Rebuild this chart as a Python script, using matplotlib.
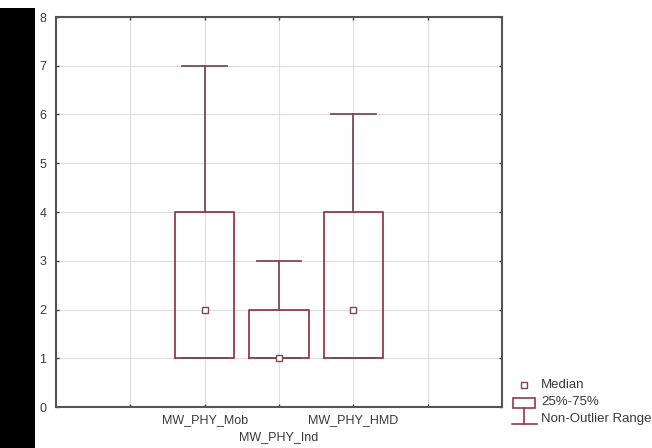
import matplotlib
matplotlib.use("Agg")
import matplotlib.pyplot as plt
from matplotlib.patches import Rectangle
from matplotlib.lines import Line2D

categories = ["MW_PHY_Mob", "MW_PHY_Ind", "MW_PHY_HMD"]
medians = [2, 1, 2]
q1 = [1, 1, 1]
q3 = [4, 2, 4]
whisk_lo = [1, 1, 1]
whisk_hi = [7, 3, 6]
positions = [2, 3, 4]
legend_labels = ["Median", "25%-75%", "Non-Outlier Range"]

plt.rcParams['font.family'] = ['Liberation Sans', 'DejaVu Sans']
col = '#963a48'
dark = '#7a4a55'
txt = '#3a3a3a'

W, H = 652, 448
fig = plt.figure(figsize=(W/100, H/100), dpi=100)
fig.patches.append(Rectangle((0, 0), 35/W, 440/H, transform=fig.transFigure,
                             facecolor='black', edgecolor='none', zorder=0))
ax = fig.add_axes([56/W, 1 - 407/H, (502-56)/W, (407-17)/H])

stats = []
for i, c in enumerate(categories):
    stats.append(dict(med=medians[i], q1=q1[i], q3=q3[i], whislo=whisk_lo[i],
                      whishi=whisk_hi[i], fliers=[], label=c))
ax.bxp(stats, positions=positions, widths=0.8, showfliers=False,
       boxprops=dict(color=col, linewidth=1.3),
       whiskerprops=dict(color=dark, linewidth=1.3),
       capprops=dict(color=dark, linewidth=1.3),
       medianprops=dict(linewidth=0),
       capwidths=0.6, manage_ticks=False)
ax.plot(positions, medians, linestyle='none', marker='s', markersize=4,
        markerfacecolor='white', markeredgecolor=dark, markeredgewidth=1, zorder=5)

ax.set_xlim(0, 6)
ax.set_ylim(0, 8)
ax.set_yticks(range(0, 9))
ax.set_xticks([1, 2, 3, 4, 5])
ax.set_xticklabels([])
ax.grid(True, color='#dddddd', linewidth=0.8)
ax.set_axisbelow(True)
ax.tick_params(direction='in', length=2, width=1, labelsize=9, colors=txt,
               top=True, right=True)
ax.tick_params(axis='y', pad=7)
for s in ax.spines.values():
    s.set_color('#555555')
    s.set_linewidth(1.5)

# staggered category labels
for i, c in enumerate(categories):
    y = -0.267 if i % 2 == 0 else -0.615
    ax.text(positions[i], y, c, ha='center', va='center', fontsize=9, color=txt)

# legend (drawn in figure pixel space)
def fx(px):
    return px / W

def fy(py):
    return 1 - py / H

# Median
fig.add_artist(Line2D([fx(524)], [fy(385)], linestyle='none', marker='s', markersize=4,
                      markerfacecolor='white', markeredgecolor=dark, markeredgewidth=1,
                      transform=fig.transFigure))
# 25%-75% box
fig.add_artist(Rectangle((fx(513), fy(408)), (535-513)/W, 10/H, transform=fig.transFigure,
                         facecolor='white', edgecolor=col, linewidth=1.2))
# Non-outlier range symbol
fig.add_artist(Line2D([fx(524), fx(524)], [fy(408), fy(424)], color=col, linewidth=1.2,
                      transform=fig.transFigure))
fig.add_artist(Line2D([fx(512), fx(537)], [fy(424), fy(424)], color=col, linewidth=1.2,
                      transform=fig.transFigure))
for lab, py in zip(legend_labels, [385, 402, 419]):
    fig.text(fx(541), fy(py), lab, ha='left', va='center', fontsize=9.5, color=txt)

fig.savefig("out.png", dpi=100)
